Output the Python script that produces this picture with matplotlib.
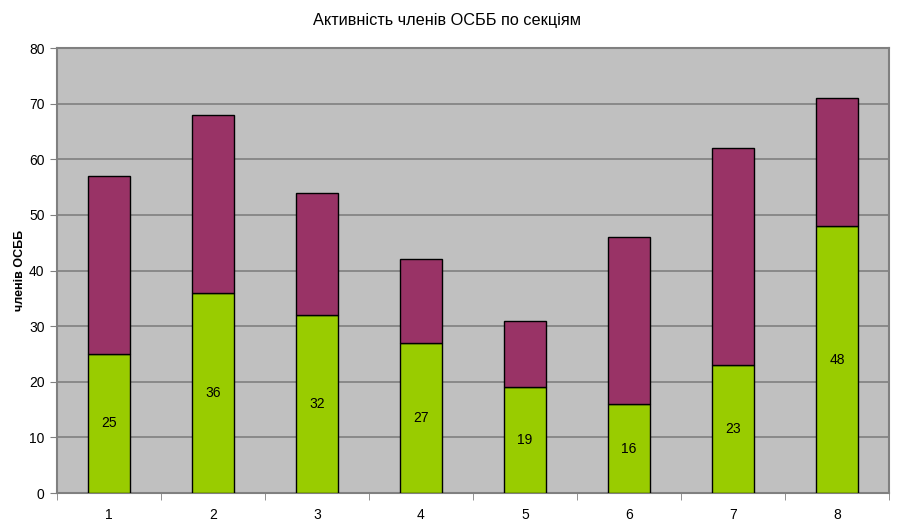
import numpy as np
import matplotlib.pyplot as plt

plt.rcParams['font.family'] = ['Liberation Sans', 'DejaVu Sans']

# data
sections = ['1', '2', '3', '4', '5', '6', '7', '8']
active = [25, 36, 32, 27, 19, 16, 23, 48]
totals = [57, 68, 54, 42, 31, 46, 62, 71]
rest = [t - a for t, a in zip(totals, active)]

fig = plt.figure(figsize=(9, 5.3), dpi=100)
ax = fig.add_axes([0.0633, 0.0698, 0.9245, 0.8396])
ax.set_facecolor('#C0C0C0')

x = np.arange(len(sections))
w = 0.4
ax.bar(x, active, w, color='#99CC00', edgecolor='black', linewidth=1, zorder=3)
ax.bar(x, rest, w, bottom=active, color='#993366', edgecolor='black', linewidth=1, zorder=3)

# labels in the middle of the green part
for xi, v in zip(x, active):
    ax.text(xi, v / 2, str(v), ha='center', va='center', fontsize=10, zorder=4)

ax.set_xlim(-0.5, len(sections) - 0.5)
ax.set_ylim(0, 80)
ax.set_yticks(range(0, 81, 10))
ax.set_xticks(x)
ax.set_xticklabels(sections)
ax.set_xticks(np.arange(len(sections) + 1) - 0.5, minor=True)
ax.tick_params(axis='x', which='major', length=0, pad=11, labelsize=10)
ax.tick_params(axis='x', which='minor', length=5, color='#808080')
ax.tick_params(axis='y', length=5, color='#808080', labelsize=10, pad=4)
ax.grid(axis='y', color='#808080', linewidth=1.2, zorder=0)

for s in ax.spines.values():
    s.set_color('#808080')
    s.set_linewidth(1.5)

fig.text(0.497, 0.962, 'Активність членів ОСББ по секціям', fontsize=11.7,
         ha='center', va='center')
ax.set_ylabel('членів ОСББ', fontsize=9, fontweight='bold', labelpad=2)

plt.savefig('out.png', dpi=100)
